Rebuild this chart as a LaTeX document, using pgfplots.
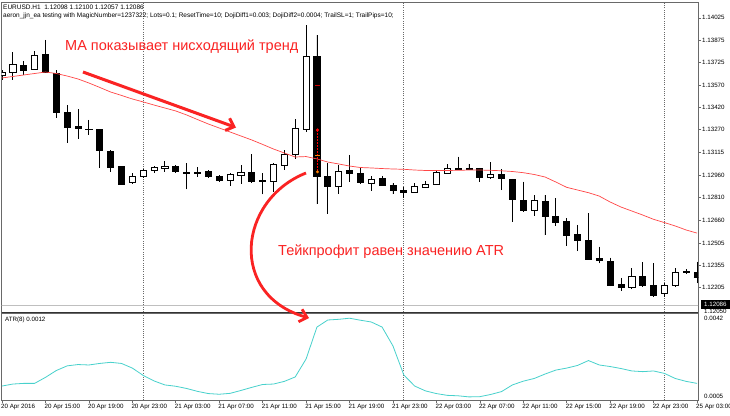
\documentclass[border=0pt]{standalone}
\usepackage{pgfplots}
\pgfplotsset{compat=1.18}
\usepgfplotslibrary{statistics}
\usetikzlibrary{arrows.meta}
\usepackage{fontspec}
\setmainfont{Liberation Sans}
\definecolor{annred}{RGB}{250,35,35}
\definecolor{mared}{RGB}{255,70,70}
\definecolor{atrc}{RGB}{72,209,204}
\definecolor{frm}{RGB}{105,105,105}
\newcommand\sm{\fontsize{6.2}{7}\selectfont}
\newcommand\hdr{\fontsize{6.5}{7}\selectfont}
\newcommand\ann{\fontsize{14.5}{16}\selectfont}
\newcommand\cw[5]{\addplot[draw=black, fill=white, line width=0.8pt, boxplot prepared={draw position=#1, lower whisker=#2, lower quartile=#3, median=#3, upper quartile=#4, upper whisker=#5}] coordinates {};}
\newcommand\cb[5]{\addplot[draw=black, fill=black, line width=0.8pt, boxplot prepared={draw position=#1, lower whisker=#2, lower quartile=#3, median=#3, upper quartile=#4, upper whisker=#5}] coordinates {};}
\begin{document}
\begin{tikzpicture}
\useasboundingbox[fill=white] (0pt,0pt) rectangle (730pt,-415pt);
\begin{axis}[name=main, at={(1.5pt,-2pt)}, anchor=north west, scale only axis,
  width=696.5pt, height=310pt,
  xmin=-0.046, xmax=64.09, ymin=1.12038, ymax=1.14132,
  axis line style={frm, line width=0.8pt},
  xtick=\empty,
  ytick={1.14025,1.13875,1.13725,1.13570,1.13420,1.13270,1.13115,1.12960,1.12810,1.12660,1.12505,1.12355,1.12205},
  yticklabels={1.14025,1.13875,1.13725,1.13570,1.13420,1.13270,1.13115,1.12960,1.12810,1.12660,1.12505,1.12355,1.12205},
  ytick pos=right, yticklabel pos=right, tick align=outside, major tick length=3pt,
  tick style={frm, line width=0.6pt},
  yticklabel style={font=\sm, anchor=west, inner sep=0pt, xshift=1pt},
  scaled y ticks=false, clip=true,
  boxplot/draw direction=y, boxplot/box extend=0.56, boxplot/whisker extend=0,
]
% bid line
\addplot[black!25, line width=0.7pt] coordinates {(-1,1.12086) (66,1.12086)};
% period separators
\addplot[frm, line width=0.8pt, dash pattern=on 1pt off 1.2pt] coordinates {(13,1.12038) (13,1.14132)};
\addplot[frm, line width=0.8pt, dash pattern=on 1pt off 1.2pt] coordinates {(37,1.12038) (37,1.14132)};
\addplot[frm, line width=0.8pt, dash pattern=on 1pt off 1.2pt] coordinates {(61,1.12038) (61,1.14132)};
% candles: index, low, body low, body high, high
\cw{0}{1.13605}{1.13639}{1.13659}{1.13673}
\cw{1}{1.13605}{1.13655}{1.13713}{1.13797}
\cb{2}{1.13639}{1.13673}{1.13707}{1.13734}
\cw{3}{1.13670}{1.13680}{1.13774}{1.13798}
\cb{4}{1.13653}{1.13659}{1.13781}{1.13876}
\cb{5}{1.13349}{1.13389}{1.13649}{1.13670}
\cb{6}{1.13180}{1.13288}{1.13389}{1.13436}
\cb{7}{1.13207}{1.13281}{1.13294}{1.13409}
\cb{8}{1.13234}{1.13271}{1.13274}{1.13335}
\cb{9}{1.13011}{1.13129}{1.13271}{1.13274}
\cb{10}{1.12986}{1.13013}{1.13126}{1.13132}
\cb{11}{1.12899}{1.12903}{1.13020}{1.13024}
\cw{12}{1.12903}{1.12911}{1.12957}{1.12975}
\cw{13}{1.12950}{1.12952}{1.12994}{1.13001}
\cw{14}{1.12979}{1.12997}{1.13013}{1.13024}
\cw{15}{1.12982}{1.13009}{1.13024}{1.13060}
\cb{16}{1.12977}{1.12986}{1.13020}{1.13028}
\cb{17}{1.12867}{1.12972}{1.12984}{1.13042}
\cb{18}{1.12952}{1.12977}{1.12982}{1.13015}
\cb{19}{1.12948}{1.12952}{1.12988}{1.12997}
\cb{20}{1.12918}{1.12930}{1.12952}{1.12963}
\cw{21}{1.12889}{1.12925}{1.12968}{1.12979}
\cw{22}{1.12903}{1.12963}{1.12982}{1.13031}
\cb{23}{1.12916}{1.12918}{1.12982}{1.13105}
\cb{24}{1.12833}{1.12918}{1.12925}{1.12975}
\cw{25}{1.12851}{1.12923}{1.13036}{1.13046}
\cw{26}{1.12997}{1.13026}{1.13103}{1.13132}
\cw{27}{1.13072}{1.13103}{1.13279}{1.13340}
\cw{28}{1.13256}{1.13272}{1.13763}{1.13977}
\cb{29}{1.12767}{1.12957}{1.13763}{1.13909}
\cb{30}{1.12700}{1.12884}{1.12952}{1.13042}
\cw{31}{1.12835}{1.12884}{1.12990}{1.13031}
\cb{32}{1.12918}{1.12975}{1.12997}{1.13099}
\cb{33}{1.12907}{1.12911}{1.12975}{1.13015}
\cw{34}{1.12857}{1.12907}{1.12936}{1.12957}
\cb{35}{1.12891}{1.12896}{1.12941}{1.12957}
\cb{36}{1.12835}{1.12862}{1.12891}{1.12907}
\cb{37}{1.12806}{1.12846}{1.12862}{1.12880}
\cw{38}{1.12840}{1.12846}{1.12884}{1.12907}
\cw{39}{1.12874}{1.12880}{1.12903}{1.12925}
\cw{40}{1.12896}{1.12903}{1.12979}{1.12997}
\cw{41}{1.12974}{1.12975}{1.13006}{1.13038}
\cb{42}{1.13002}{1.13004}{1.13009}{1.13087}
\cb{43}{1.12999}{1.13002}{1.13006}{1.13038}
\cb{44}{1.12918}{1.12945}{1.13009}{1.13011}
\cw{45}{1.12941}{1.12945}{1.12970}{1.13053}
\cb{46}{1.12862}{1.12941}{1.12968}{1.13002}
\cb{47}{1.12648}{1.12799}{1.12936}{1.12938}
\cb{48}{1.12715}{1.12722}{1.12794}{1.12918}
\cw{49}{1.12686}{1.12727}{1.12790}{1.12828}
\cb{50}{1.12558}{1.12686}{1.12788}{1.12828}
\cb{51}{1.12619}{1.12641}{1.12686}{1.12806}
\cb{52}{1.12484}{1.12558}{1.12648}{1.12671}
\cb{53}{1.12450}{1.12520}{1.12563}{1.12626}
\cb{54}{1.12391}{1.12394}{1.12520}{1.12705}
\cb{55}{1.12367}{1.12389}{1.12401}{1.12479}
\cb{56}{1.12213}{1.12220}{1.12382}{1.12405}
\cb{57}{1.12182}{1.12202}{1.12227}{1.12269}
\cw{58}{1.12191}{1.12205}{1.12281}{1.12337}
\cb{59}{1.12213}{1.12215}{1.12281}{1.12374}
\cb{60}{1.12146}{1.12148}{1.12220}{1.12367}
\cw{61}{1.12141}{1.12164}{1.12215}{1.12232}
\cw{62}{1.12213}{1.12215}{1.12303}{1.12333}
\cb{63}{1.12294}{1.12303}{1.12310}{1.12328}
\cb{64}{1.12232}{1.12269}{1.12303}{1.12378}
% order line inside the big candle
\addplot[red, line width=0.7pt, dash pattern=on 1.5pt off 1.5pt] coordinates {(29.05,1.13267) (29.05,1.12984)};
\addplot[only marks, mark=*, mark size=1.4pt, red] coordinates {(29.05,1.13267)};
\addplot[only marks, mark=*, mark size=1.2pt, orange] coordinates {(29.05,1.12984)};
\addplot[only marks, mark=-, mark size=2.5pt, orange, line width=0.8pt] coordinates {(29.05,1.13099)};
\addplot[only marks, mark=-, mark size=2.5pt, red!80!black, line width=0.8pt] coordinates {(29.05,1.13572)};
% moving average
\addplot[mared, line width=0.7pt] coordinates {
(0,1.13619)(1,1.13629)(2,1.13639)(3,1.13649)(4,1.13659)(5,1.13649)(6,1.13632)(7,1.13612)(8,1.13585)(9,1.13555)
(10,1.13524)(11,1.13501)(12,1.13477)(13,1.13457)(14,1.13436)(15,1.13416)(16,1.13396)(17,1.13369)(18,1.13338)(19,1.13308)
(20,1.13281)(21,1.13254)(22,1.13227)(23,1.13200)(24,1.13170)(25,1.13139)(26,1.13112)(27,1.13085)(28,1.13088)(29,1.13072)
(30,1.13051)(31,1.13038)(32,1.13024)(33,1.13014)(34,1.13011)(35,1.13007)(36,1.13004)(37,1.13002)(38,1.12997)(39,1.12994)
(40,1.12994)(41,1.12994)(42,1.12995)(43,1.12997)(44,1.12997)(45,1.12995)(46,1.12992)(47,1.12987)(48,1.12979)(49,1.12967)
(50,1.12950)(51,1.12916)(52,1.12880)(53,1.12862)(54,1.12844)(55,1.12821)(56,1.12781)(57,1.12747)(58,1.12720)(59,1.12693)
(60,1.12664)(61,1.12642)(62,1.12619)(63,1.12592)(64,1.12571)};
\end{axis}
\begin{axis}[name=atr, at={(1.5pt,-313pt)}, anchor=north west, scale only axis,
  width=696.5pt, height=87pt,
  xmin=-0.046, xmax=64.09, ymin=0.00041, ymax=0.004335,
  axis line style={frm, line width=0.8pt},
  ytick=\empty,
  xtick={0,4,8,12,16,20,24,28,32,36,40,44,48,52,56,60,64},
  xticklabels={20 Apr 2016,20 Apr 15:00,20 Apr 19:00,20 Apr 23:00,21 Apr 03:00,21 Apr 07:00,21 Apr 11:00,21 Apr 15:00,21 Apr 19:00,21 Apr 23:00,22 Apr 03:00,22 Apr 07:00,22 Apr 11:00,22 Apr 15:00,22 Apr 19:00,22 Apr 23:00,25 Apr 03:00},
  xtick pos=bottom, tick align=outside, major tick length=3pt,
  tick style={frm, line width=0.6pt},
  xticklabel style={font=\sm, anchor=north west, inner sep=0pt, yshift=-1pt, xshift=-1pt},
  clip=true,
]
\addplot[frm, line width=0.8pt, dash pattern=on 1pt off 1.2pt] coordinates {(13,0.00041) (13,0.004335)};
\addplot[frm, line width=0.8pt, dash pattern=on 1pt off 1.2pt] coordinates {(37,0.00041) (37,0.004335)};
\addplot[frm, line width=0.8pt, dash pattern=on 1pt off 1.2pt] coordinates {(61,0.00041) (61,0.004335)};
\addplot[atrc, line width=0.8pt] coordinates {
(0,0.00104)(1,0.00113)(2,0.00116)(3,0.00116)(4,0.00143)(5,0.00174)(6,0.00195)(7,0.00201)(8,0.00199)(9,0.00206)
(10,0.00211)(11,0.00206)(12,0.00185)(13,0.00152)(14,0.00127)(15,0.00109)(16,0.00103)(17,0.00093)(18,0.00080)(19,0.00070)
(20,0.00067)(21,0.00071)(22,0.00084)(23,0.00098)(24,0.00111)(25,0.00113)(26,0.00125)(27,0.00145)(28,0.00226)(29,0.00370)
(30,0.00402)(31,0.00405)(32,0.00410)(33,0.00401)(34,0.00393)(35,0.00370)(36,0.00285)(37,0.00154)(38,0.00104)(39,0.00082)
(40,0.00070)(41,0.00062)(42,0.00060)(43,0.00055)(44,0.00056)(45,0.00066)(46,0.00079)(47,0.00109)(48,0.00126)(49,0.00138)
(50,0.00158)(51,0.00176)(52,0.00185)(53,0.00197)(54,0.00219)(55,0.00199)(56,0.00192)(57,0.00183)(58,0.00172)(59,0.00169)
(60,0.00172)(61,0.00161)(62,0.00138)(63,0.00125)(64,0.00116)};
\end{axis}
\begin{scope}[x=1pt,y=-1pt]
\draw[black!80, line width=1.6pt] (1.5,312.5) -- (698,312.5);
\node[anchor=west, font=\hdr, inner sep=0pt] at (3,7) {EURUSD.H1\ \ 1.12098 1.12100 1.12057 1.12086};
\node[anchor=west, font=\hdr, inner sep=0pt] at (3,16) {aeron\_jjn\_ea testing with MagicNumber=1237322; Lots=0.1; ResetTime=10; DojiDiff1=0.003; DojiDiff2=0.0004; TrailSL=1; TrailPips=10;};
\node[anchor=base west, font=\ann, text=annred, inner sep=0pt] at (65,50.7) {МА показывает нисходящий тренд};
\node[anchor=base west, font=\ann, text=annred, inner sep=0pt] at (278,255) {Тейкпрофит равен значению ATR};
\draw[annred, line width=3pt, -{Straight Barb[length=7pt, width=13pt]}] (83,72) -- (236,127.5);
\draw[annred, line width=2.8pt, -{Straight Barb[length=7pt, width=13pt]}] (306,173) .. controls (238,200) and (228,295) .. (309,318);
\node[anchor=west, font=\sm, inner sep=0pt] at (5,319.5) {ATR(8) 0.0012};
\node[anchor=west, font=\sm, inner sep=0pt] at (704,318) {0.0042};
\node[anchor=west, font=\sm, inner sep=0pt] at (704,396) {0.0005};
\node[anchor=west, font=\sm, inner sep=0pt] at (704,311) {1.12050};
\fill[black] (700.5,300) rectangle (730,309);
\node[anchor=west, font=\sm, inner sep=0pt, text=white] at (704,304.5) {1.12086};
\end{scope}
\end{tikzpicture}
\end{document}
